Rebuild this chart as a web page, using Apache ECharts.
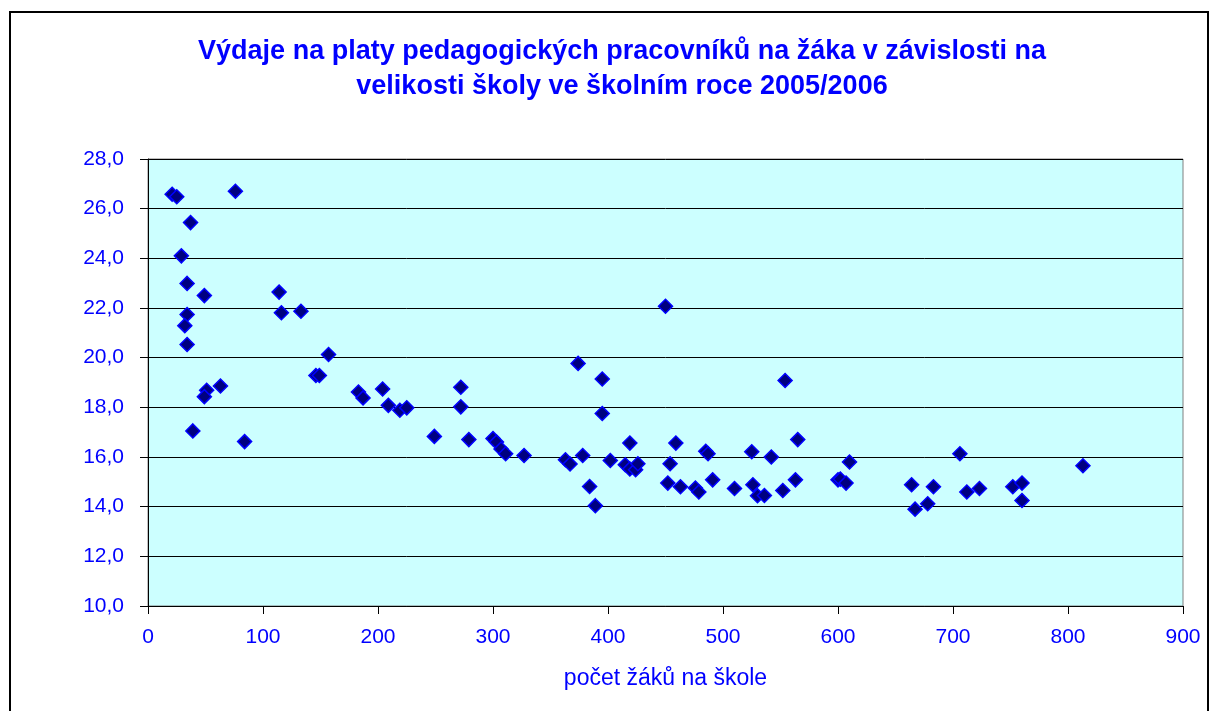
<!DOCTYPE html>
<html>
<head>
<meta charset="utf-8">
<script src="https://cdn.jsdelivr.net/npm/echarts@6/dist/echarts.min.js"></script>
<style>
  html, body { margin: 0; padding: 0; background: #fff; }
  #chart { width: 1213px; height: 711px; }
</style>
</head>
<body>
<div id="chart"></div>
<script>
// počet žáků na škole
const pocetZaku = [
  21, 25, 76, 37, 29, 34, 49, 34, 32, 34,
  114, 116, 133, 157, 146, 149, 51, 49, 63, 39,
  84, 183, 187, 204, 209, 219, 225, 272, 272, 249,
  279, 300, 303, 307, 311, 327, 363, 367, 378, 384,
  389, 402, 419, 415, 419, 424, 426, 450, 374, 395,
  395, 459, 454, 452, 463, 476, 479, 485, 487, 491,
  510, 525, 526, 530, 536, 542, 554, 552, 565, 563,
  600, 610, 602, 607, 664, 667, 678, 683, 706, 712,
  723, 752, 760, 760, 813
];
// výdaje na platy na žáka (tis. Kč)
const vydajeNaZaka = [
  26.58, 26.48, 26.70, 25.44, 24.10, 22.99, 22.50, 21.74, 21.29, 20.53,
  22.64, 21.81, 21.87, 20.13, 19.28, 19.28, 18.69, 18.43, 18.86, 17.05,
  16.62, 18.62, 18.38, 18.74, 18.08, 17.88, 17.98, 18.81, 18.02, 16.83,
  16.70, 16.74, 16.60, 16.32, 16.13, 16.06, 15.89, 15.72, 16.06, 14.81,
  14.04, 15.86, 16.56, 15.69, 15.52, 15.49, 15.73, 22.07, 19.77, 19.14,
  17.75, 16.56, 15.73, 14.95, 14.80, 14.75, 14.59, 16.23, 16.13, 15.08,
  14.73, 16.21, 14.88, 14.44, 14.45, 16.00, 19.08, 14.65, 16.70, 15.08,
  15.08, 15.80, 15.11, 14.95, 14.88, 13.90, 14.12, 14.80, 16.13, 14.59,
  14.73, 14.80, 14.95, 14.25, 15.65
];

const titleLines = [
  'Výdaje na platy pedagogických pracovníků na žáka v závislosti na',
  'velikosti školy ve školním roce 2005/2006'
];
const xName = 'počet žáků na škole';

const blue = '#0000ff';
const points = pocetZaku.map((x, i) => [x, vydajeNaZaka[i]]);

const chart = echarts.init(document.getElementById('chart'));
chart.setOption({
  backgroundColor: '#ffffff',
  animation: false,
  textStyle: { fontFamily: 'Liberation Sans, Arial, sans-serif' },
  title: {
    text: titleLines.join('\n'),
    left: 617,
    top: 29,
    textAlign: 'center',
    textStyle: {
      color: blue,
      fontSize: 27,
      fontWeight: 'bold',
      lineHeight: 35,
      fontFamily: 'Liberation Sans, Arial, sans-serif'
    }
  },
  graphic: [{
    type: 'rect',
    shape: { x: 10, y: 12, width: 1198, height: 720 },
    style: { fill: 'none', stroke: '#000', lineWidth: 2 },
    silent: true,
    z: -1
  }],
  grid: {
    left: 148,
    right: 30,
    top: 159,
    bottom: 105,
    show: true,
    backgroundColor: '#ccffff',
    borderColor: '#808080',
    borderWidth: 1
  },
  xAxis: {
    type: 'value',
    min: 0,
    max: 900,
    interval: 100,
    name: xName,
    nameLocation: 'middle',
    nameGap: 61,
    nameTextStyle: { color: blue, fontSize: 23 },
    axisLine: { show: true, lineStyle: { color: '#000', width: 1 } },
    axisTick: { show: true, length: 8, lineStyle: { color: '#000' } },
    axisLabel: { color: blue, fontSize: 21, margin: 21 },
    splitLine: { show: false }
  },
  yAxis: {
    type: 'value',
    min: 10,
    max: 28,
    interval: 2,
    axisLine: { show: true, lineStyle: { color: '#000', width: 1 } },
    axisTick: { show: true, length: 8, lineStyle: { color: '#000' } },
    axisLabel: {
      color: blue,
      fontSize: 21,
      margin: 24,
      formatter: v => v.toFixed(1).replace('.', ',')
    },
    splitLine: { show: true, lineStyle: { color: '#000', width: 1 } }
  },
  series: [{
    type: 'scatter',
    data: points,
    symbol: 'diamond',
    symbolSize: 14,
    itemStyle: { color: '#000080', borderColor: blue, borderWidth: 1.5, opacity: 1 }
  }]
});
</script>
</body>
</html>
